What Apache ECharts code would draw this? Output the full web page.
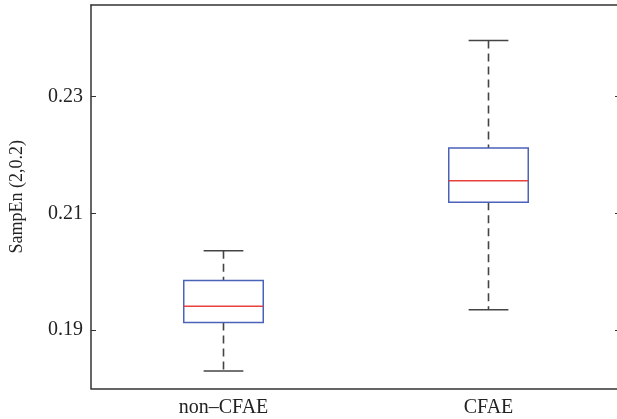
<!DOCTYPE html>
<html lang="en">
<head>
    <meta charset="UTF-8">
    <title>SampEn boxplot</title>
    <script src="https://cdn.jsdelivr.net/npm/echarts@6/dist/echarts.min.js"></script>
    <style>
        html, body { margin: 0; padding: 0; background: #fff; }
        #chart { width: 617px; height: 419px; }
    </style>
</head>
<body>
    <div id="chart"></div>
    <script>
        // values
        var categories = ['non\u2013CFAE', 'CFAE'];
        var whiskerLow = [0.1830, 0.1935];
        var boxLow = [0.1913, 0.2119];
        var medians = [0.1941, 0.2156];
        var boxHigh = [0.1985, 0.2212];
        var whiskerHigh = [0.2036, 0.2396];
        var yTicks = [0.19, 0.21, 0.23];

        var axisColor = '#333';
        var font = 'Liberation Serif';

        var boxData = categories.map(function (c, i) {
            return [i, whiskerLow[i], boxLow[i], medians[i], boxHigh[i], whiskerHigh[i]];
        });

        function renderBox(params, api) {
            var i = api.value(0);
            var pLow = api.coord([i, api.value(1)]);
            var pQ1 = api.coord([i, api.value(2)]);
            var pMed = api.coord([i, api.value(3)]);
            var pQ3 = api.coord([i, api.value(4)]);
            var pHigh = api.coord([i, api.value(5)]);
            var bw = api.size([1, 0])[0] * 0.3;
            var cw = bw / 2;
            var x = pMed[0];
            var dash = { stroke: '#444', lineWidth: 1.6, lineDash: [8, 5] };
            var solid = { stroke: '#444', lineWidth: 1.5 };
            return {
                type: 'group',
                children: [
                    { type: 'line', shape: { x1: x, y1: pHigh[1], x2: x, y2: pQ3[1] }, style: dash },
                    { type: 'line', shape: { x1: x, y1: pQ1[1], x2: x, y2: pLow[1] }, style: dash },
                    { type: 'line', shape: { x1: x - cw / 2, y1: pHigh[1], x2: x + cw / 2, y2: pHigh[1] }, style: solid },
                    { type: 'line', shape: { x1: x - cw / 2, y1: pLow[1], x2: x + cw / 2, y2: pLow[1] }, style: solid },
                    { type: 'rect', shape: { x: x - bw / 2, y: pQ3[1], width: bw, height: pQ1[1] - pQ3[1] },
                      style: { fill: 'none', stroke: '#4a62b8', lineWidth: 1.5 } },
                    { type: 'line', shape: { x1: x - bw / 2, y1: pMed[1], x2: x + bw / 2, y2: pMed[1] },
                      style: { stroke: '#e8403f', lineWidth: 1.5 } }
                ]
            };
        }

        var chart = echarts.init(document.getElementById('chart'));
        chart.setOption({
            animation: false,
            grid: { left: 91, top: 5, width: 530, height: 383.5, outerBoundsMode: 'none', containLabel: false },
            xAxis: [{
                type: 'category',
                data: categories,
                position: 'bottom',
                axisLine: { lineStyle: { color: axisColor, width: 1.5 } },
                axisTick: { inside: true, alignWithLabel: true, length: 5, lineStyle: { color: axisColor } },
                axisLabel: { color: '#222', fontFamily: font, fontSize: 20, margin: 9 },
                splitLine: { show: false }
            }, {
                type: 'category',
                data: categories,
                position: 'top',
                axisLine: { lineStyle: { color: axisColor, width: 1.5 } },
                axisTick: { inside: true, alignWithLabel: true, length: 5, lineStyle: { color: axisColor } },
                axisLabel: { show: false }
            }],
            yAxis: [{
                type: 'value',
                min: 0.18,
                max: 0.2457,
                position: 'left',
                name: 'SampEn (2,0.2)',
                nameLocation: 'middle',
                nameGap: 65,
                nameTextStyle: { color: '#222', fontFamily: font, fontSize: 18 },
                axisLine: { show: true, lineStyle: { color: axisColor, width: 1.5 } },
                axisTick: { show: true, inside: true, length: 5, customValues: yTicks, lineStyle: { color: axisColor } },
                axisLabel: { customValues: yTicks, color: '#222', fontFamily: font, fontSize: 20, margin: 8,
                    formatter: function (v) { return v.toFixed(2); } },
                splitLine: { show: false }
            }, {
                type: 'value',
                min: 0.18,
                max: 0.2457,
                position: 'right',
                axisLine: { show: true, lineStyle: { color: axisColor, width: 1.5 } },
                axisTick: { show: true, inside: true, length: 6, customValues: yTicks, lineStyle: { color: axisColor } },
                axisLabel: { show: false },
                splitLine: { show: false }
            }],
            series: [{
                type: 'custom',
                renderItem: renderBox,
                encode: { x: 0, y: [1, 2, 3, 4, 5] },
                data: boxData
            }]
        });
    </script>
</body>
</html>
